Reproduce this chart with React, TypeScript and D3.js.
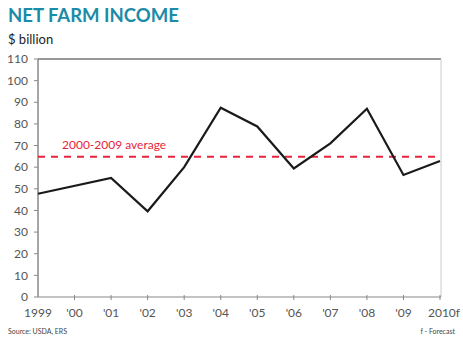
import React from "react";
import * as d3 from "d3";

const years = [1999, 2000, 2001, 2002, 2003, 2004, 2005, 2006, 2007, 2008, 2009, 2010];
const yearLabels = ["1999", "'00", "'01", "'02", "'03", "'04", "'05", "'06", "'07", "'08", "'09", "2010f"];
const incomeYears = [1999, 2001, 2002, 2003, 2004, 2005, 2006, 2007, 2008, 2009, 2010];
const income = [47.7, 55.0, 39.6, 60.0, 87.5, 78.8, 59.4, 71.0, 87.0, 56.4, 62.9];
const average = 64.8;
const yTicks = [0, 10, 20, 30, 40, 50, 60, 70, 80, 90, 100, 110];

export default function App() {
  const W = 463, H = 346;
  const left = 38, right = 441, top = 59, bottom = 297;
  const x = d3.scaleLinear().domain([1999, 2010]).range([left, 440]);
  const y = d3.scaleLinear().domain([0, 110]).range([bottom, top]);
  const line = d3.line<number>().x((_, i) => x(incomeYears[i])).y((d) => y(d));
  const font = "Lato, 'Open Sans', sans-serif";
  return (
    <svg width={W} height={H} style={{ position: "absolute", left: 0, top: 0, background: "#fff" }} fontFamily={font}>
      <text x={8} y={22} fontSize={18.5} fontWeight={700} fill="#1b8ba6">NET FARM INCOME</text>
      <text x={8} y={44} fontSize={13} fill="#222">$ billion</text>
      {/* frame */}
      <line x1={left} x2={right} y1={top} y2={top} stroke="#333" strokeWidth={1.2} />
      <line x1={right} x2={right} y1={top} y2={bottom} stroke="#ccc" strokeWidth={1} />
      <line x1={left} x2={left} y1={top} y2={bottom} stroke="#888" strokeWidth={1.5} />
      <line x1={left} x2={right} y1={bottom} y2={bottom} stroke="#888" strokeWidth={1.2} />
      {yTicks.map((t) => (
        <g key={t}>
          <line x1={left - 4} x2={left} y1={y(t)} y2={y(t)} stroke="#888" />
          <text x={28} y={y(t)} dy="0.35em" textAnchor="end" fontSize={12} fill="#555">{t}</text>
        </g>
      ))}
      {years.map((yr, i) => (
        <g key={yr}>
          {i > 0 && <line x1={x(yr)} x2={x(yr)} y1={bottom - 2} y2={bottom + 3} stroke="#888" />}
          <text x={i === years.length - 1 ? x(yr) + 4 : x(yr)} y={317} textAnchor="middle" fontSize={12} fill="#555">{yearLabels[i]}</text>
        </g>
      ))}
      <line x1={left} x2={right} y1={y(average)} y2={y(average)} stroke="#e8243c" strokeWidth={2} strokeDasharray="7,6" />
      <text x={62} y={149} fontSize={12} fill="#e8243c">2000-2009 average</text>
      <path d={line(income) || ""} fill="none" stroke="#1a1a1a" strokeWidth={2.2} strokeLinejoin="miter" />
      <text x={8} y={334} fontSize={7} fill="#444">Source: USDA, ERS</text>
      <text x={455} y={334} fontSize={7} fill="#444" textAnchor="end">f - Forecast</text>
    </svg>
  );
}
